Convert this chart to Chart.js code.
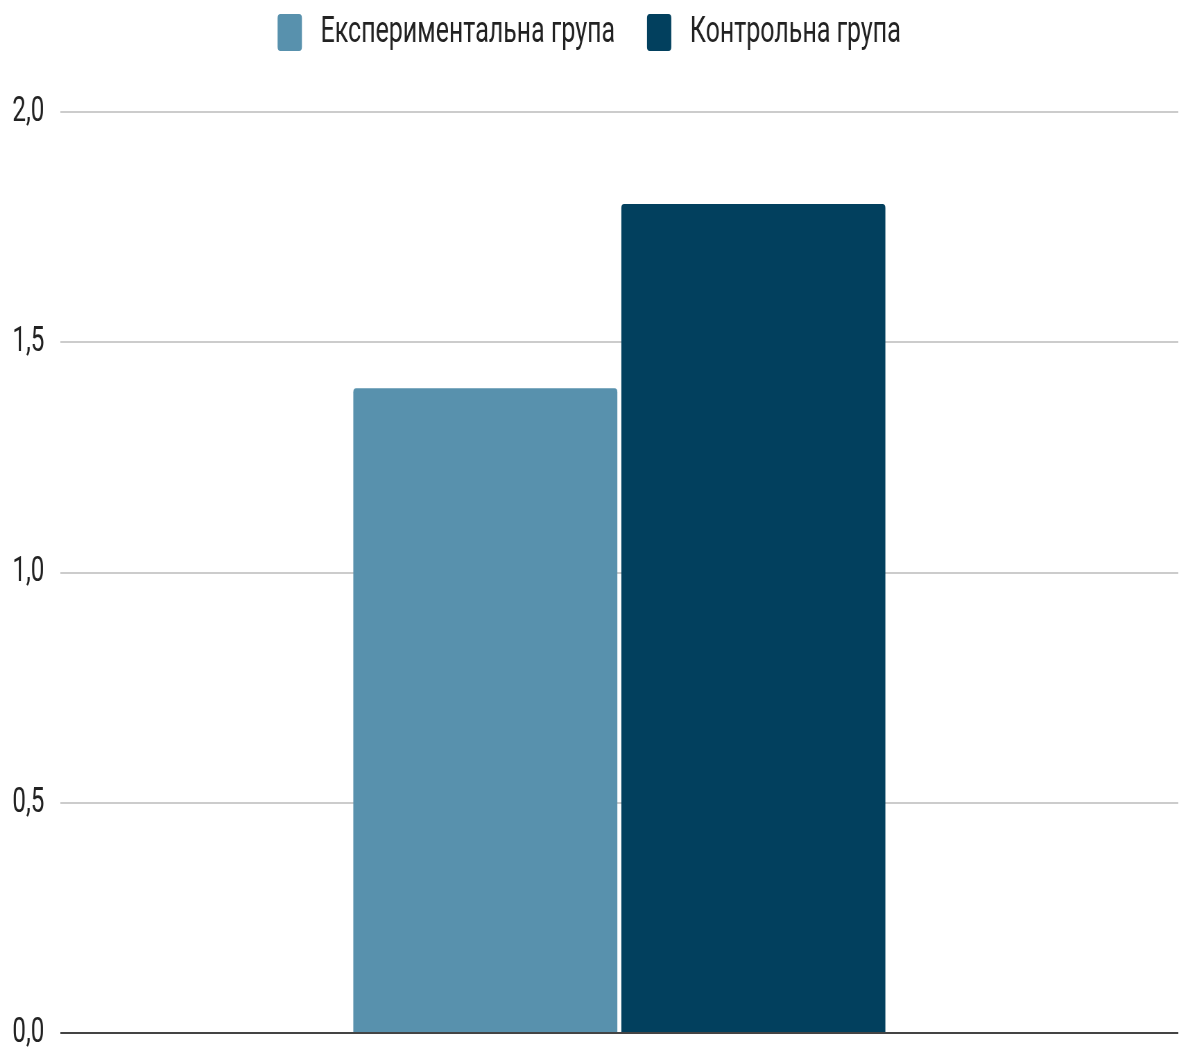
<!DOCTYPE html>
<html>
<head>
<meta charset="utf-8">
<script src="https://cdn.jsdelivr.net/npm/chart.js@4"></script>
<style>
  html, body { margin: 0; padding: 0; background: #fff; }
</style>
</head>
<body>
<!-- drawn wide, shown narrow: gives the tall condensed look -->
<canvas id="chart" width="1700" height="1051" style="display:block;width:1179px;height:1051px"></canvas>
<script>
const categories = [""];
const seriesNames = ["Експериментальна група", "Контрольна група"];
const experimentalValues = [1.4];
const controlValues = [1.8];
const seriesColors = ["#5891ad", "#02405e"];

// legend reserves the space down to the top gridline,
// then gets nudged up so its wide item padding doesn't push it down
const legendSpace = {
  id: "legendSpace",
  beforeInit(chart) {
    const fit = chart.legend.fit;
    chart.legend.fit = function () {
      fit.bind(chart.legend)();
      this.height = 112;
    };
  },
  afterLayout(chart) {
    chart.legend.top -= 32;
  },
};

const ctx = document.getElementById("chart").getContext("2d");
const chart = new Chart(ctx, {
  type: "bar",
  data: {
    labels: categories,
    datasets: [
      {
        label: seriesNames[0],
        data: experimentalValues,
        backgroundColor: seriesColors[0],
        borderRadius: 4,
        categoryPercentage: 0.4795,
        barPercentage: 0.985,
      },
      {
        label: seriesNames[1],
        data: controlValues,
        backgroundColor: seriesColors[1],
        borderRadius: 4,
        categoryPercentage: 0.4795,
        barPercentage: 0.985,
      },
    ],
  },
  options: {
    responsive: false,
    devicePixelRatio: 1,
    animation: false,
    layout: {
      autoPadding: false,
      padding: { top: 0, right: 1, bottom: 18, left: 0 },
    },
    plugins: {
      legend: {
        display: true,
        position: "top",
        labels: {
          boxWidth: 35,
          boxHeight: 37,
          useBorderRadius: true,
          borderRadius: 4,
          padding: 46,
          color: "#222",
          font: { family: "Roboto", size: 36 },
          // a little more room between the swatch and its text
          generateLabels: (c) =>
            Chart.defaults.plugins.legend.labels
              .generateLabels(c)
              .map((item) => ({ ...item, text: " " + item.text })),
        },
      },
      tooltip: { enabled: false },
    },
    scales: {
      x: { display: false },
      y: {
        min: 0,
        max: 2,
        afterFit: (scale) => {
          scale.width = 87;
        },
        border: { display: false },
        grid: {
          lineWidth: 2,
          // invisible tick marks keep the labels off the gridlines
          drawTicks: true,
          tickLength: 23,
          tickColor: "rgba(0,0,0,0)",
          color: (c) => (c.tick && c.tick.value === 0 ? "#444" : "#ccc"),
        },
        ticks: {
          stepSize: 0.5,
          padding: 0,
          color: "#222",
          font: { family: "Roboto", size: 35, lineHeight: 1 },
          callback: (v) => v.toFixed(1).replace(".", ","),
        },
      },
    },
  },
  plugins: [legendSpace],
});
</script>
</body>
</html>
